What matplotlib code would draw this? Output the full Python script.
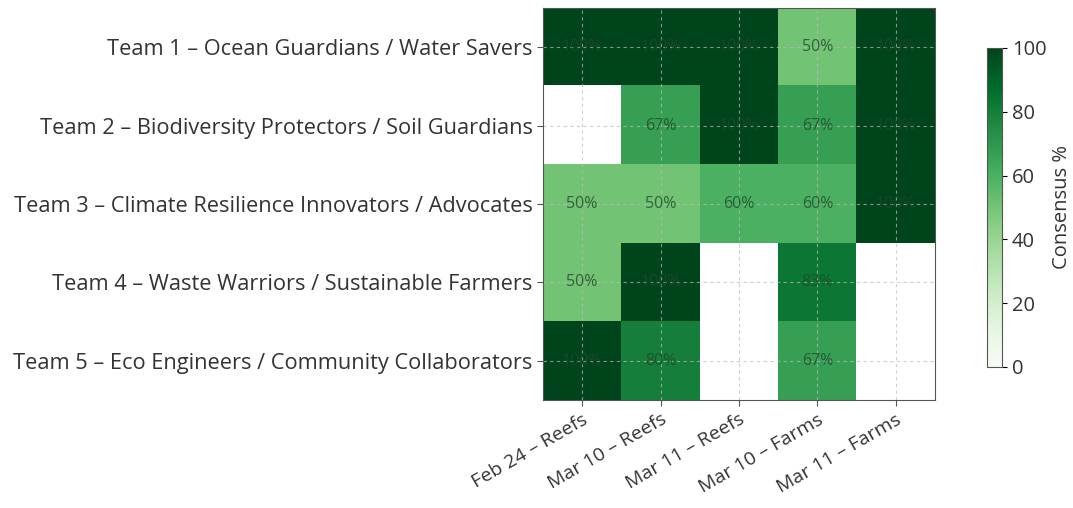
import numpy as np
import matplotlib
matplotlib.use("Agg")
import matplotlib.pyplot as plt

plt.rcParams['font.family'] = ['Open Sans', 'DejaVu Sans']

teams = ["Team 1 \u2013 Ocean Guardians / Water Savers",
         "Team 2 \u2013 Biodiversity Protectors / Soil Guardians",
         "Team 3 \u2013 Climate Resilience Innovators / Advocates",
         "Team 4 \u2013 Waste Warriors / Sustainable Farmers",
         "Team 5 \u2013 Eco Engineers / Community Collaborators"]
sessions = ["Feb 24 \u2013 Reefs", "Mar 10 \u2013 Reefs", "Mar 11 \u2013 Reefs",
            "Mar 10 \u2013 Farms", "Mar 11 \u2013 Farms"]

nan = np.nan
team1 = [100, 100, 100, 50, 100]
team2 = [nan, 67, 100, 67, 100]
team3 = [50, 50, 60, 60, 100]
team4 = [50, 100, nan, 83, nan]
team5 = [100, 80, nan, 67, nan]

data = np.array([team1, team2, team3, team4, team5], dtype=float)

fig = plt.figure(figsize=(10.73, 5.08), dpi=100)
ax = fig.add_axes([0.506, 0.2126, 0.3653, 0.7717])
cax = fig.add_axes([0.9198, 0.2776, 0.014, 0.628])

cmap = plt.get_cmap('Greens').copy()
cmap.set_bad('white')
im = ax.imshow(np.ma.masked_invalid(data), cmap=cmap, vmin=0, vmax=100, aspect='auto')

for i in range(data.shape[0]):
    for j in range(data.shape[1]):
        v = data[i, j]
        if not np.isnan(v):
            ax.text(j, i, f"{v:.0f}%", ha='center', va='center',
                    fontsize=11.5, color='#1f4a2a', alpha=0.8)

ax.set_xticks(range(len(sessions)))
ax.set_xticklabels(sessions, rotation=30, ha='right', rotation_mode='anchor', fontsize=14, color='#333333')
ax.set_yticks(range(len(teams)))
ax.set_yticklabels(teams, fontsize=15.7, color='#333333')
ax.grid(True, linestyle=(0, (3, 3)), color='#bbbbbb', linewidth=0.8, alpha=0.7)
ax.tick_params(length=4, color='#555555')
for s in ax.spines.values():
    s.set_color('#555555')

cb = fig.colorbar(im, cax=cax)
cb.set_label("Consensus %", fontsize=14.5, color='#333333')
cb.ax.tick_params(labelsize=14.5, labelcolor='#333333')
cb.outline.set_edgecolor('#555555')

fig.savefig("out.png", dpi=100)
